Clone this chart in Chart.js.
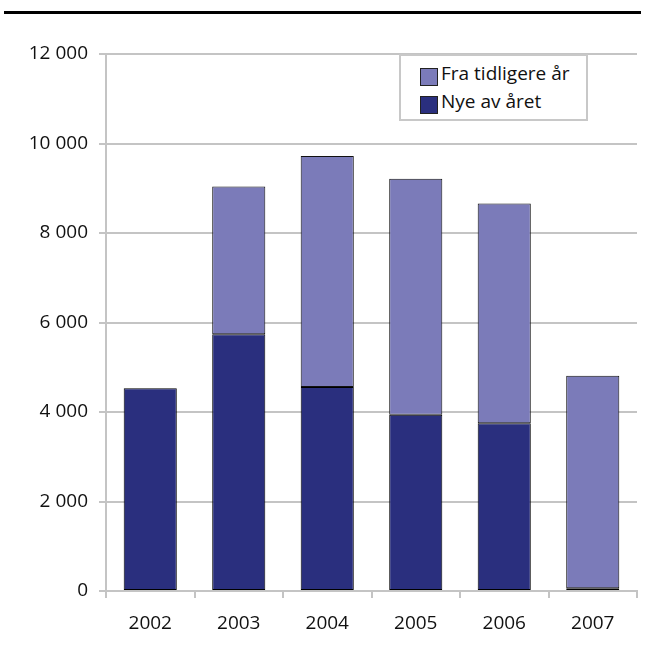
<!DOCTYPE html>
<html>
<head>
<meta charset="utf-8">
<script src="https://cdn.jsdelivr.net/npm/chart.js@4"></script>
<style>
  html, body { margin: 0; padding: 0; background: #fff; }
  #wrap { position: relative; width: 646px; height: 650px; }
  #rule { position: absolute; left: 4px; top: 11px; width: 637px; height: 3px; background: #000; }
  #legend {
    position: absolute; left: 399px; top: 54px; width: 189px; height: 67px;
    background: #fff; border: 2px solid #c8c8c8; box-sizing: border-box;
    font-family: "Open Sans", sans-serif; font-size: 19px; line-height: 19px; color: #111;
  }
  .sw { position: absolute; left: 19px; width: 16px; height: 16px; border: 1px solid #222; }
  .tx { position: absolute; left: 40px; white-space: nowrap; }
</style>
</head>
<body>
<div id="wrap">
  <canvas id="chart" width="646" height="650"></canvas>
  <div id="rule"></div>
  <div id="legend">
    <span class="sw" style="top:12px; background:#7b7bb9"></span>
    <span class="tx" style="top:8px">Fra tidligere år</span>
    <span class="sw" style="top:40px; background:#2a2f7e"></span>
    <span class="tx" style="top:36px">Nye av året</span>
  </div>
</div>
<script>
// Kategorier og verdier lest av figuren
const aar = ['2002', '2003', '2004', '2005', '2006', '2007'];
const nyeAvAaret = [4530, 5740, 4560, 3940, 3750, 60];
const fraTidligere = [0, 3300, 5160, 5270, 4910, 4750];
const yTicks = [0, 2000, 4000, 6000, 8000, 10000, 12000];

const lysBla = '#7b7bb9';
const morkBla = '#2a2f7e';
const gra = '#c4c4c4';

function formaterTall(v) {
  return String(v).replace(/\B(?=(\d{3})+(?!\d))/g, ' ');
}

new Chart(document.getElementById('chart'), {
  type: 'bar',
  data: {
    labels: aar,
    datasets: [
      {
        label: 'Nye av året',
        data: nyeAvAaret,
        backgroundColor: morkBla,
        borderColor: '#000',
        borderWidth: 1,
        borderSkipped: false,
        barPercentage: 0.6,
        categoryPercentage: 1
      },
      {
        label: 'Fra tidligere år',
        data: fraTidligere,
        backgroundColor: lysBla,
        borderColor: '#111',
        borderWidth: 1,
        borderSkipped: false,
        barPercentage: 0.6,
        categoryPercentage: 1
      }
    ]
  },
  options: {
    responsive: false,
    animation: false,
    layout: { padding: { left: 0, right: 9, top: 54, bottom: 9 } },
    plugins: { legend: { display: false }, tooltip: { enabled: false } },
    scales: {
      x: {
        stacked: true,
        afterFit: (s) => { s.height = 50; },
        grid: { drawOnChartArea: false, drawTicks: true, tickLength: 7, color: gra, lineWidth: 2, offset: true },
        border: { color: gra, width: 2 },
        ticks: { color: '#111', font: { family: 'Open Sans', size: 19 }, padding: 14 }
      },
      y: {
        stacked: true,
        min: 0,
        max: 12000,
        afterFit: (s) => { s.width = 106; },
        afterBuildTicks: (s) => { s.ticks = yTicks.map(v => ({ value: v })); },
        grid: { color: gra, lineWidth: 2, tickLength: 7 },
        border: { color: gra, width: 2 },
        ticks: {
          color: '#111',
          font: { family: 'Open Sans', size: 19 },
          padding: 11,
          callback: (v) => formaterTall(v)
        }
      }
    }
  }
});
</script>
</body>
</html>
